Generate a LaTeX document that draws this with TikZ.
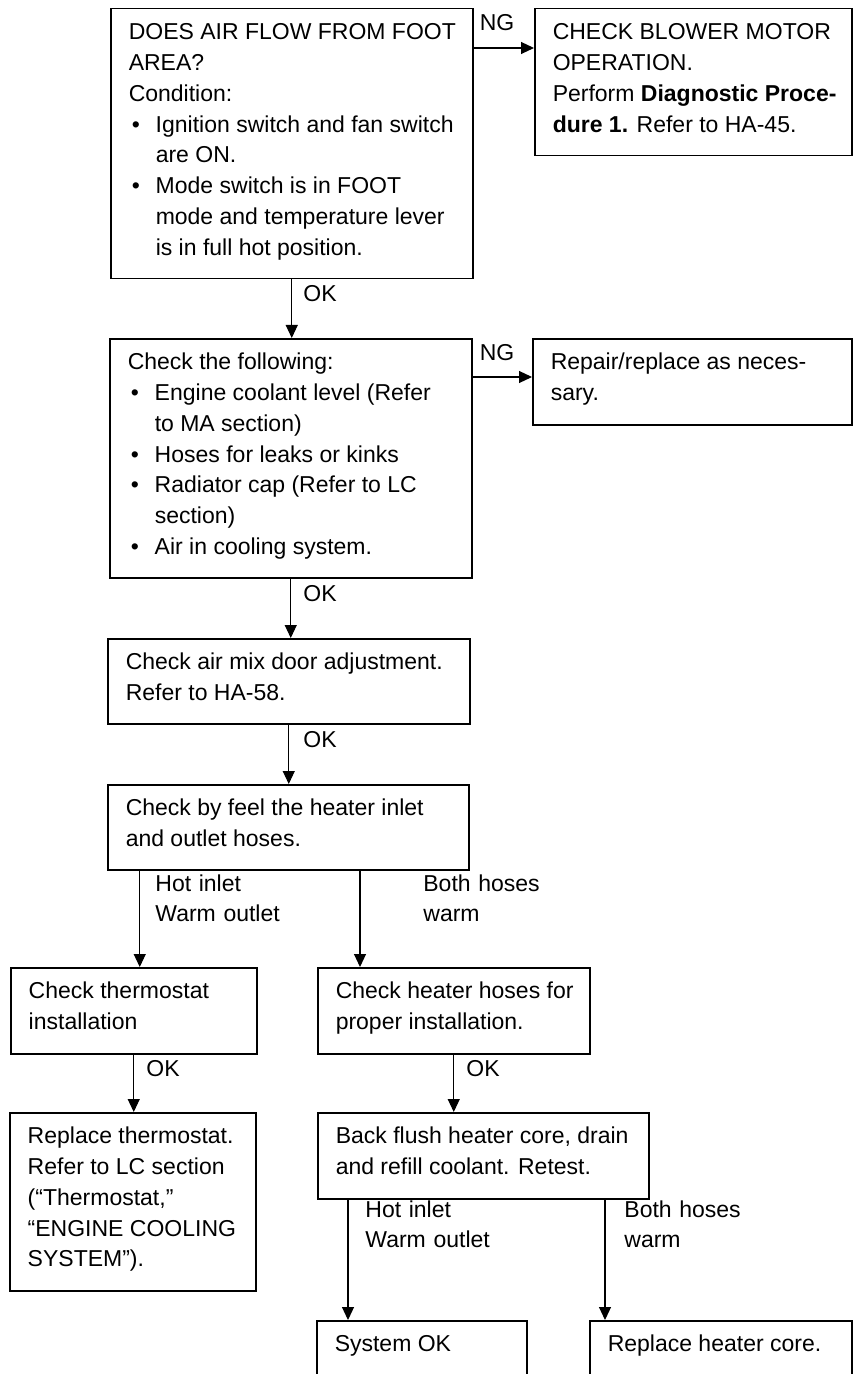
\documentclass[tikz,border=0pt]{standalone}
\usepackage{fontspec}
\setmainfont{Liberation Sans}
\usetikzlibrary{arrows.meta}

\newlength\px
\setlength\px{0.5pt}
\newcommand{\boxtxt}[3]{\parbox[t][#2\px][t]{#1\px}{\parindent=0pt\rightskip=0pt plus 1fil\leftskip=18\px\rule{0pt}{15.5pt}#3}}
\newcommand{\itm}{\par\hangindent=27\px\hangafter=1\noindent\makebox[27\px][l]{\hspace{3\px}\textbullet}}

\begin{document}
\begin{tikzpicture}[x=0.5pt,y=-0.5pt,
    every node/.style={font=\fontsize{11.5pt}{15.4pt}\selectfont},
    box/.style={draw,line width=0.75pt,inner sep=0pt,anchor=north west},
    lbl/.style={inner sep=0pt,anchor=base west},
    arr/.style={line width=0.55pt,-{Triangle[length=6.5pt,width=6pt]}}]
        \path[use as bounding box,fill=white] (0,0) rectangle (852,1374);

        \node[box] (foot) at (110,8) {\boxtxt{362}{270}{DOES AIR FLOW FROM FOOT\\AREA?\\Condition:\itm Ignition switch and fan switch\\are ON.\itm Mode switch is in FOOT\\mode and temperature lever\\is in full hot position.}};
        \node[box] (blower) at (534,8) {\boxtxt{317}{147}{CHECK BLOWER MOTOR\\OPERATION.\\Perform \textbf{Diagnostic Proce-}\\\textbf{dure 1.} Refer to HA-45.}};
        \node[box] (follow) at (109,338) {\boxtxt{362}{239}{Check the following:\itm Engine coolant level (Refer\\to MA section)\itm Hoses for leaks or kinks\itm Radiator cap (Refer to LC\\section)\itm Air in cooling system.}};
        \node[box] (repair) at (532,338) {\boxtxt{319}{86}{Repair/replace as neces-\\sary.}};
        \node[box] (airmix) at (107,638) {\boxtxt{362}{85}{Check air mix door adjustment.\\Refer to HA-58.}};
        \node[box] (feel) at (107,784) {\boxtxt{361}{85}{Check by feel the heater inlet\\and outlet hoses.}};
        \node[box] (thermo) at (10,967) {\boxtxt{246}{86}{Check thermostat\\installation}};
        \node[box] (hoses) at (317,967) {\boxtxt{272}{86}{Check heater hoses for\\proper installation.}};
        \node[box] (replth) at (9,1112) {\boxtxt{246}{178}{Replace thermostat.\\Refer to LC section\\(“Thermostat,”\\“ENGINE COOLING\\SYSTEM”).}};
        \node[box] (flush) at (317,1112) {\boxtxt{331}{86}{Back flush heater core, drain\\and refill coolant. Retest.}};
        \node[box] (sysok) at (316,1320) {\boxtxt{210}{70}{System OK}};
        \node[box] (core) at (589,1320) {\boxtxt{262}{70}{Replace heater core.}};

        \coordinate (t1) at ([xshift=3pt]thermo.north);
        \coordinate (t2) at ([xshift=21.5pt]hoses.north west);
        \coordinate (t3) at ([xshift=16pt]sysok.north west);
        \coordinate (t4) at ([xshift=8pt]core.north west);

        \draw[arr] ([yshift=-20pt]foot.north east) -- ([yshift=-20pt]foot.north east -| blower.west);
        \draw[arr] ([yshift=-19.5pt]follow.north east) -- ([yshift=-19.5pt]follow.north east -| repair.west);
        \draw[arr] (foot.south) -- (foot.south |- follow.north);
        \draw[arr] (follow.south) -- (follow.south |- airmix.north);
        \draw[arr] (airmix.south) -- (airmix.south |- feel.north);
        \draw[arr] (t1 |- feel.south) -- (t1);
        \draw[arr] (t2 |- feel.south) -- (t2);
        \draw[arr] (thermo.south) -- (thermo.south |- replth.north);
        \draw[arr] (hoses.south) -- (hoses.south |- flush.north);
        \draw[arr] (t3 |- flush.south) -- (t3);
        \draw[arr] (t4 |- flush.south) -- (t4);

        \node[lbl,anchor=base] (ng1) at (497,31) {NG};
        \node[lbl,anchor=base] (ng2) at (497,360) {NG};
        \node[lbl] (ok1) at (303,301) {OK};
        \node[lbl] (ok2) at (303,601) {OK};
        \node[lbl] (ok3) at (303,747) {OK};
        \node[lbl] (ok4) at (146,1076) {OK};
        \node[lbl] (ok5) at (466,1076) {OK};
        \node[lbl,text width=110pt,align=left] (hot1) at (155,891) {Hot inlet\\Warm outlet};
        \node[lbl,text width=110pt,align=left] (both1) at (423,891) {Both hoses\\warm};
        \node[lbl,text width=110pt,align=left] (hot2) at (365,1217) {Hot inlet\\Warm outlet};
        \node[lbl,text width=110pt,align=left] (both2) at (624,1217) {Both hoses\\warm};
\end{tikzpicture}
\end{document}
